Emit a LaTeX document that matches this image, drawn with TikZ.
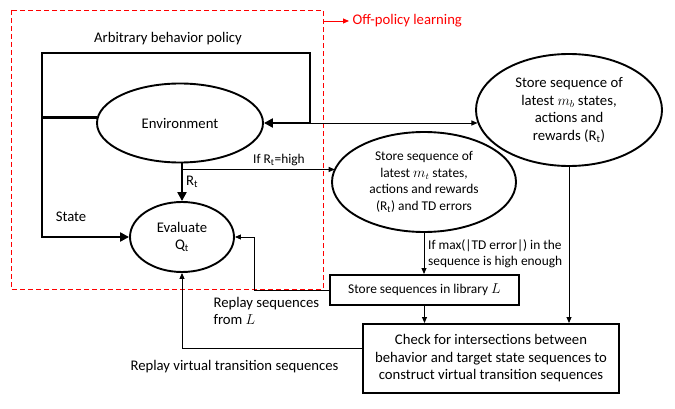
\documentclass[tikz,border=0pt]{standalone}
\usepackage{fontspec}
\setmainfont{Carlito}
\usetikzlibrary{shapes.geometric}
\usetikzlibrary{arrows.meta}

\newcommand\lblfont{\fontsize{14.7}{17.5}\selectfont}
\newcommand\smlfont{\fontsize{13.4}{16.5}\selectfont}

\begin{document}
\begin{tikzpicture}[x=1pt,y=-1pt,
  every node/.style={font=\lblfont},
  ell/.style={ellipse,draw,line width=1.9pt,inner sep=0pt,align=center},
  box/.style={rectangle,draw,line width=2pt,inner sep=0pt,align=center},
  thickline/.style={line width=2.8pt},
  thickarrow/.style={line width=2.8pt,-{Triangle[length=9pt,width=9pt]}},
  thinarrow/.style={line width=0.9pt,-{Triangle[length=6pt,width=5pt]}}]
\useasboundingbox (0,0) rectangle (675,409);

% off-policy part
\draw[red,dash pattern=on 5pt off 3pt,line width=0.9pt] (11,10) rectangle (323,289);
\coordinate (offp) at (323,21);
\node[text=red,anchor=west] (offl) at (349,21) {Off-policy learning};
\draw[red,line width=0.9pt,-{Triangle[length=6pt,width=5pt]}] (offp) -- (offl.west);

% nodes
\node[ell,minimum width=166pt,minimum height=79pt] (env) at (180,123) {Environment};
\node[ell,minimum width=104pt,minimum height=70pt] (eval) at (182,237) {Evaluate\\Q\textsubscript{t}};
\node[ell,font=\smlfont,minimum width=184pt,minimum height=100pt] (mt) at (424,182) {Store sequence of\\latest $m_t$ states,\\actions and rewards\\(R\textsubscript{t}) and TD errors};
\node[ell,minimum width=186pt,minimum height=112pt] (mb) at (569,110) {Store sequence of\\latest $m_b$ states,\\actions and\\rewards (R\textsubscript{t})};
\node[box,font=\smlfont,minimum width=189pt,minimum height=30pt] (lib) at (424.5,290) {Store sequences in library $L$};
\node[box,minimum width=256pt,minimum height=69pt] (chk) at (491,358.5) {Check for intersections between\\behavior and target state sequences to\\construct virtual transition sequences};

% labels
\node (arbl) at (168,39) {Arbitrary behavior policy};
\node (statel) at (71,217) {State};
\node[anchor=west] (rtl) at (182.5,182) {R\textsubscript{t}};
\node[font=\smlfont] (highl) at (279,160) {If R\textsubscript{t}=high};
\node[font=\smlfont,anchor=west,align=left] (tdl) at (424.6,253.5) {If max(|TD error|) in the\\sequence is high enough};
\node[anchor=west,align=left] (replayl) at (210,311) {Replay sequences\\from $L$};
\node[anchor=west] (virtl) at (127,367) {Replay virtual transition sequences};

% behavior loop
\coordinate (looptl) at (42,53);
\coordinate (looptr) at (310,53);
\draw[thickline,line join=miter,{Triangle[length=9pt,width=9pt]}-{Triangle[length=9pt,width=9pt]}] (eval.west) -| (looptl) -- (looptr) |- (env.east);
\draw[thickline] (env.176) -- (env.176 -| looptl);

% rewards
\coordinate (rtop) at (eval.north |- env.south);
\coordinate (rsplit) at ([yshift=-6pt]rtop);
\draw[thickarrow] (rtop) -- (eval.north);
\draw[thinarrow] (rsplit) -- (rsplit -| mt.171.7);
\draw[thinarrow] (looptr |- env.east) -- (env.east -| mb.188.2);

% storing and replay
\draw[thinarrow] (mt.south) -- (mt.south |- lib.north);
\draw[thinarrow] (lib.south) -- (lib.south |- chk.north);
\draw[thinarrow] (mb.south) -- (mb.south |- chk.north);
\coordinate (lbend) at ([xshift=19pt]eval.east);
\draw[thinarrow] (lib.west) -| (lbend) -- (eval.east);
\draw[thinarrow] ([yshift=10pt]chk.west) -| (eval.south);

\end{tikzpicture}
\end{document}
